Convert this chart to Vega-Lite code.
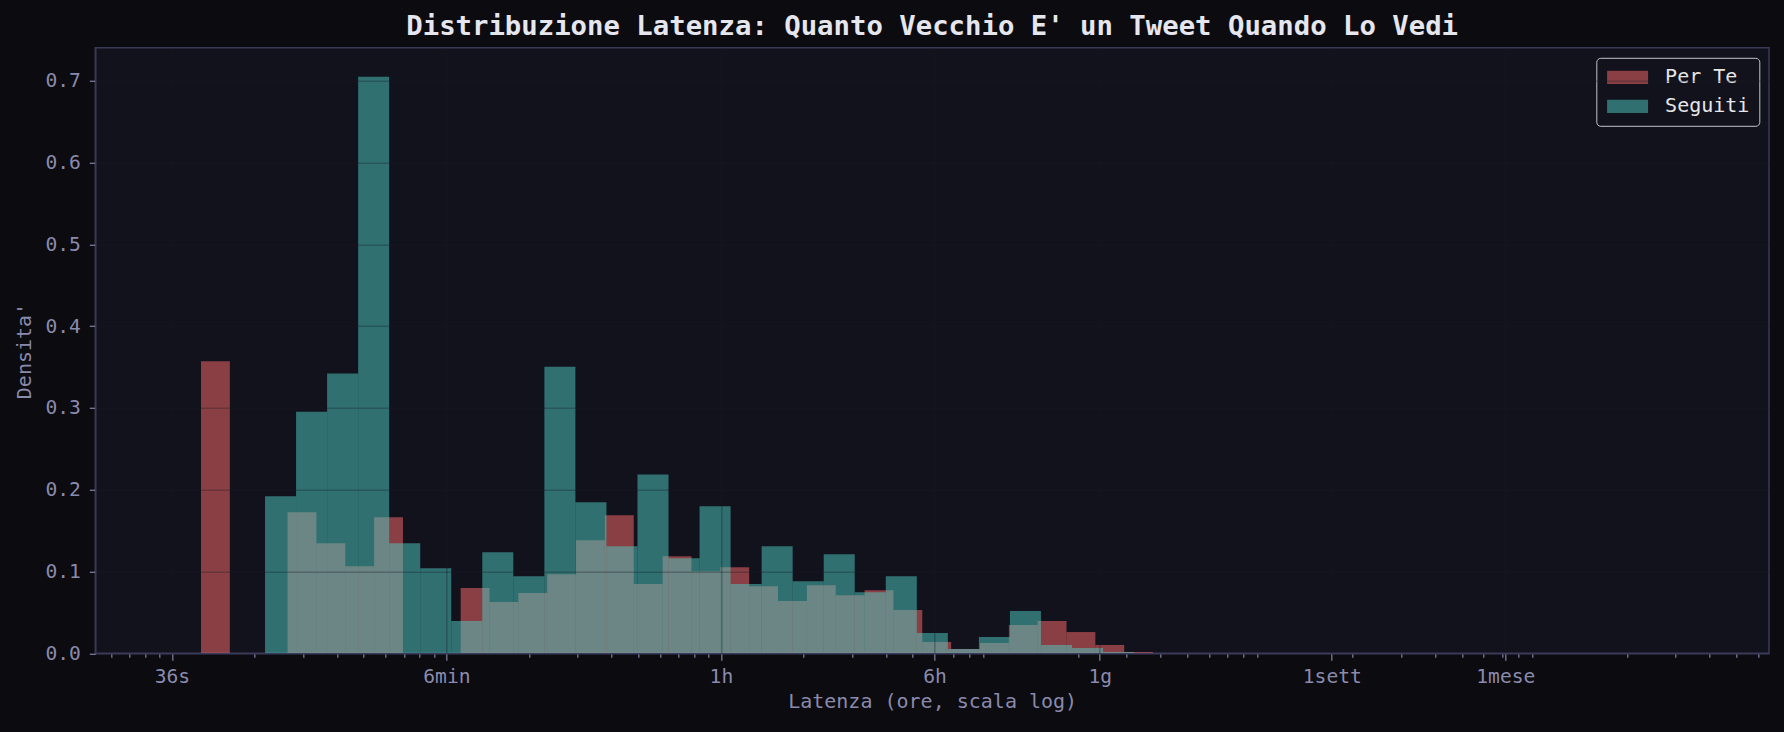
{
  "$schema": "https://vega.github.io/schema/vega-lite/v6.json",
  "width": 1673.7,
  "height": 605.5,
  "autosize": {"type": "none"},
  "padding": {"left": 95.3, "top": 47.8, "right": 15, "bottom": 78.7},
  "background": "#0b0b10",
  "config": {
    "font": "DejaVu Sans Mono",
    "view": {"fill": "#12121c", "stroke": "#3a3a5a", "strokeWidth": 1.5}
  },
  "title": {
    "text": "Distribuzione Latenza: Quanto Vecchio E' un Tweet Quando Lo Vedi",
    "font": "DejaVu Sans Mono",
    "fontWeight": "bold",
    "fontSize": 27.3,
    "color": "#e6e6ee",
    "anchor": "middle",
    "frame": "group",
    "offset": 8
  },
  "data": {
    "values": [
      {"serie": "Per Te", "x0": 0.012764, "x1": 0.016260, "densita": 0.357},
      {"serie": "Per Te", "x0": 0.026385, "x1": 0.033612, "densita": 0.1724},
      {"serie": "Per Te", "x0": 0.033612, "x1": 0.042815, "densita": 0.1346},
      {"serie": "Per Te", "x0": 0.042815, "x1": 0.054539, "densita": 0.1065},
      {"serie": "Per Te", "x0": 0.054539, "x1": 0.069471, "densita": 0.1663},
      {"serie": "Per Te", "x0": 0.11270, "x1": 0.14355, "densita": 0.0797},
      {"serie": "Per Te", "x0": 0.14355, "x1": 0.18289, "densita": 0.0626},
      {"serie": "Per Te", "x0": 0.18289, "x1": 0.23291, "densita": 0.0736},
      {"serie": "Per Te", "x0": 0.23291, "x1": 0.29667, "densita": 0.0967},
      {"serie": "Per Te", "x0": 0.29667, "x1": 0.37789, "densita": 0.1382},
      {"serie": "Per Te", "x0": 0.37789, "x1": 0.48139, "densita": 0.1687},
      {"serie": "Per Te", "x0": 0.48139, "x1": 0.61320, "densita": 0.0846},
      {"serie": "Per Te", "x0": 0.61320, "x1": 0.78106, "densita": 0.1187},
      {"serie": "Per Te", "x0": 0.78106, "x1": 0.99495, "densita": 0.1004},
      {"serie": "Per Te", "x0": 0.99495, "x1": 1.2674, "densita": 0.1053},
      {"serie": "Per Te", "x0": 1.2674, "x1": 1.6144, "densita": 0.0821},
      {"serie": "Per Te", "x0": 1.6144, "x1": 2.0565, "densita": 0.0638},
      {"serie": "Per Te", "x0": 2.0565, "x1": 2.6197, "densita": 0.0833},
      {"serie": "Per Te", "x0": 2.6197, "x1": 3.3373, "densita": 0.0711},
      {"serie": "Per Te", "x0": 3.3373, "x1": 4.2510, "densita": 0.0772},
      {"serie": "Per Te", "x0": 4.2510, "x1": 5.4150, "densita": 0.0528},
      {"serie": "Per Te", "x0": 5.4150, "x1": 6.8977, "densita": 0.0138},
      {"serie": "Per Te", "x0": 6.8977, "x1": 8.7862, "densita": 0.0053},
      {"serie": "Per Te", "x0": 8.7862, "x1": 11.192, "densita": 0.0126},
      {"serie": "Per Te", "x0": 11.192, "x1": 14.257, "densita": 0.0346},
      {"serie": "Per Te", "x0": 14.257, "x1": 18.155, "densita": 0.0394},
      {"serie": "Per Te", "x0": 18.155, "x1": 23.125, "densita": 0.026},
      {"serie": "Per Te", "x0": 23.125, "x1": 29.459, "densita": 0.0102},
      {"serie": "Per Te", "x0": 29.459, "x1": 37.525, "densita": 0.0016},
      {"serie": "Seguiti", "x0": 0.021840, "x1": 0.028335, "densita": 0.192},
      {"serie": "Seguiti", "x0": 0.028335, "x1": 0.036761, "densita": 0.2955},
      {"serie": "Seguiti", "x0": 0.036761, "x1": 0.047694, "densita": 0.342},
      {"serie": "Seguiti", "x0": 0.047694, "x1": 0.061877, "densita": 0.705},
      {"serie": "Seguiti", "x0": 0.061877, "x1": 0.080277, "densita": 0.1346},
      {"serie": "Seguiti", "x0": 0.080277, "x1": 0.10414, "densita": 0.104},
      {"serie": "Seguiti", "x0": 0.10414, "x1": 0.13512, "densita": 0.0394},
      {"serie": "Seguiti", "x0": 0.13512, "x1": 0.17530, "densita": 0.1236},
      {"serie": "Seguiti", "x0": 0.17530, "x1": 0.22743, "densita": 0.0943},
      {"serie": "Seguiti", "x0": 0.22743, "x1": 0.29506, "densita": 0.3504},
      {"serie": "Seguiti", "x0": 0.29506, "x1": 0.38280, "densita": 0.1846},
      {"serie": "Seguiti", "x0": 0.38280, "x1": 0.49664, "densita": 0.1309},
      {"serie": "Seguiti", "x0": 0.49664, "x1": 0.64434, "densita": 0.2187},
      {"serie": "Seguiti", "x0": 0.64434, "x1": 0.83595, "densita": 0.1163},
      {"serie": "Seguiti", "x0": 0.83595, "x1": 1.0846, "densita": 0.1797},
      {"serie": "Seguiti", "x0": 1.0846, "x1": 1.4071, "densita": 0.0846},
      {"serie": "Seguiti", "x0": 1.4071, "x1": 1.8255, "densita": 0.1309},
      {"serie": "Seguiti", "x0": 1.8255, "x1": 2.3684, "densita": 0.0882},
      {"serie": "Seguiti", "x0": 2.3684, "x1": 3.0727, "densita": 0.1211},
      {"serie": "Seguiti", "x0": 3.0727, "x1": 3.9866, "densita": 0.0748},
      {"serie": "Seguiti", "x0": 3.9866, "x1": 5.1720, "densita": 0.0943},
      {"serie": "Seguiti", "x0": 5.1720, "x1": 6.7099, "densita": 0.0248},
      {"serie": "Seguiti", "x0": 6.7099, "x1": 8.7053, "densita": 0.0053},
      {"serie": "Seguiti", "x0": 8.7053, "x1": 11.294, "densita": 0.0199},
      {"serie": "Seguiti", "x0": 11.294, "x1": 14.653, "densita": 0.0516},
      {"serie": "Seguiti", "x0": 14.653, "x1": 19.010, "densita": 0.0102},
      {"serie": "Seguiti", "x0": 19.010, "x1": 24.663, "densita": 0.0065},
      {"serie": "Seguiti", "x0": 24.663, "x1": 31.997, "densita": 0.0016}
    ]
  },
  "encoding": {
    "x": {
      "field": "x0",
      "type": "quantitative",
      "scale": {"type": "log", "domain": [0.00526, 6577], "nice": false},
      "axis": {
        "title": "Latenza (ore, scala log)",
        "titleFontSize": 20,
        "titleFontWeight": "normal",
        "titleColor": "#8a8aac",
        "titlePadding": 6,
        "values": [0.006, 0.007, 0.008, 0.009, 0.01, 0.02, 0.03, 0.04, 0.05, 0.06, 0.07, 0.08, 0.09, 0.1, 0.2, 0.3, 0.4, 0.5, 0.6, 0.7, 0.8, 0.9, 1, 2, 3, 4, 5, 6, 7, 8, 9, 20, 24, 30, 40, 50, 60, 70, 80, 90, 168, 200, 300, 400, 500, 600, 700, 720, 800, 900, 2000, 3000, 4000, 5000, 6000],
        "labelExpr": "datum.value == 0.01 ? '36s' : datum.value == 0.1 ? '6min' : datum.value == 1 ? '1h' : datum.value == 6 ? '6h' : datum.value == 24 ? '1g' : datum.value == 168 ? '1sett' : datum.value == 720 ? '1mese' : ''",
        "labelOverlap": false,
        "labelFlush": false,
        "labelFontSize": 19.6,
        "labelColor": "#8a8aac",
        "labelPadding": 7,
        "tickColor": "#7a7a9a",
        "tickWidth": 1.3,
        "tickSize": {"condition": {"test": "indexof([0.01, 0.1, 1, 6, 24, 168, 720], datum.value) >= 0", "value": 7}, "value": 4},
        "domainColor": "#3a3a5a",
        "domainWidth": 1.5,
        "grid": true,
        "gridColor": "#1a1a28",
        "gridWidth": 1.6,
        "gridOpacity": {"condition": {"test": "indexof([0.01, 0.1, 1, 6, 24, 168, 720], datum.value) >= 0", "value": 0.3}, "value": 0},
        "zindex": 1
      }
    },
    "x2": {"field": "x1"},
    "y": {
      "field": "densita",
      "type": "quantitative",
      "stack": null,
      "scale": {"domain": [0, 0.7404], "nice": false},
      "axis": {
        "title": "Densita'",
        "titleFontSize": 20,
        "titleFontWeight": "normal",
        "titleColor": "#8a8aac",
        "titlePadding": 10,
        "values": [0, 0.1, 0.2, 0.3, 0.4, 0.5, 0.6, 0.7],
        "format": ".1f",
        "labelFontSize": 19.6,
        "labelColor": "#8a8aac",
        "labelPadding": 9,
        "tickColor": "#7a7a9a",
        "tickWidth": 1.3,
        "tickSize": 6,
        "domainColor": "#3a3a5a",
        "domainWidth": 1.5,
        "grid": true,
        "gridColor": "#1a1a28",
        "gridWidth": 1.6,
        "gridOpacity": 0.3,
        "zindex": 1
      }
    },
    "y2": {"datum": 0},
    "color": {
      "field": "serie",
      "type": "nominal",
      "scale": {"domain": ["Per Te", "Seguiti"], "range": ["#ff6b6b", "#4ecdc4"]},
      "legend": {
        "title": null,
        "orient": "top-right",
        "offset": 10,
        "fillColor": "#12121c",
        "strokeColor": "#c4c4ca",
        "cornerRadius": 4,
        "padding": 9,
        "labelFontSize": 20,
        "labelColor": "#e6e6e6",
        "labelOffset": 38.8,
        "rowPadding": 8,
        "symbolType": "M-0.85,-0.65H3.15V0.65H-0.85Z",
        "symbolSize": 420,
        "symbolOpacity": 0.5,
        "symbolStrokeWidth": 0
      }
    }
  },
  "layer": [
    {
      "transform": [{"filter": "datum.serie == 'Per Te'"}],
      "mark": {"type": "bar", "opacity": 0.5}
    },
    {
      "transform": [{"filter": "datum.serie == 'Seguiti'"}],
      "mark": {"type": "bar", "opacity": 0.5}
    }
  ]
}
